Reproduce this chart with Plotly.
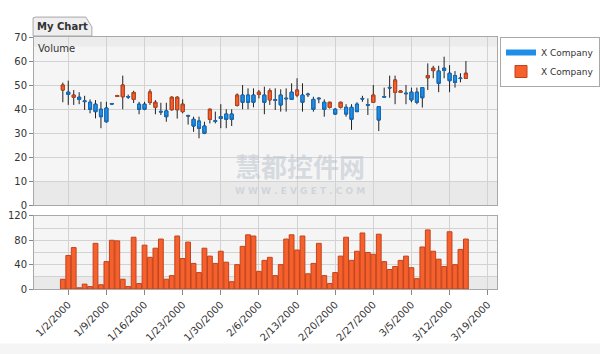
import plotly.graph_objects as go
from plotly.subplots import make_subplots
import pandas as pd

dates = pd.date_range("2000-01-01", periods=75, freq="D")

opens = [47.9, 47.0, 44.9, 44.9, 43.4, 42.8, 42.0, 39.9, 40.4, 42.3,
         45.2, 45.1, 45.2, 44.0, 42.0, 42.0, 42.7, 40.7, 39.0, 39.2,
         39.7, 39.7, 38.9, 37.3, 35.7, 35.0, 32.9, 35.7, 35.1, 36.8,
         37.9, 37.9, 41.5, 45.8, 45.8, 45.8, 46.1, 45.8, 43.8, 43.9,
         45.8, 44.5, 47.0, 45.8, 45.8, 46.2, 44.0, 44.5, 42.8, 40.7,
         39.9, 40.7, 40.7, 40.7, 42.0, 44.4, 41.8, 42.8, 41.0, 45.2,
         49.0, 47.0, 46.9, 46.6, 47.0, 47.0, 48.9, 53.0, 56.0, 55.8,
         57.0, 54.9, 53.9, 52.9, 52.8]
highs = [51.0, 51.8, 47.9, 47.0, 45.5, 44.0, 43.7, 43.0, 43.0, 42.5,
         45.9, 53.9, 46.0, 47.6, 43.0, 43.0, 48.2, 43.7, 42.6, 42.6,
         45.3, 45.3, 44.0, 37.6, 36.8, 36.8, 34.7, 40.2, 38.9, 42.0,
         39.9, 39.9, 46.5, 50.0, 48.6, 48.6, 47.9, 49.3, 48.6, 48.6,
         48.2, 48.6, 50.7, 52.8, 50.7, 46.8, 45.1, 44.9, 44.0, 43.0,
         40.4, 43.0, 42.0, 42.0, 42.8, 45.5, 44.4, 50.0, 41.2, 48.9,
         53.9, 53.9, 47.7, 50.0, 48.9, 48.9, 49.0, 59.0, 58.0, 58.0,
         61.8, 58.3, 55.8, 54.9, 60.0]
lows = [42.8, 41.7, 41.7, 42.0, 39.6, 38.2, 36.1, 32.0, 34.3, 41.9,
        45.0, 39.9, 44.2, 42.5, 37.8, 39.5, 41.7, 37.8, 37.5, 34.7,
        39.3, 36.0, 38.2, 33.5, 30.5, 27.8, 29.5, 34.0, 34.0, 32.0,
        32.0, 32.9, 41.0, 39.9, 39.9, 40.7, 44.4, 37.8, 41.7, 39.6,
        38.9, 38.9, 43.8, 44.9, 38.9, 45.0, 38.9, 42.4, 36.8, 40.2,
        37.6, 40.2, 36.8, 31.3, 38.9, 43.0, 37.5, 42.6, 30.8, 44.7,
        44.7, 42.0, 46.7, 42.0, 42.8, 42.0, 40.6, 47.9, 52.8, 47.0,
        52.8, 47.0, 48.9, 51.1, 52.8]
closes = [50.0, 46.1, 45.8, 44.0, 43.1, 39.9, 38.9, 36.8, 34.7, 42.1,
          45.6, 50.0, 45.0, 46.9, 39.9, 39.9, 47.1, 42.8, 38.8, 36.8,
          44.9, 44.9, 42.0, 37.1, 32.9, 32.0, 29.9, 39.9, 34.9, 36.1,
          35.7, 35.7, 45.8, 42.8, 42.8, 42.8, 47.0, 42.8, 47.6, 43.7,
          41.7, 44.3, 44.0, 47.9, 42.8, 46.0, 39.9, 44.3, 39.9, 42.8,
          37.9, 42.8, 37.9, 35.7, 38.9, 44.2, 41.6, 45.8, 35.4, 45.0,
          48.8, 52.1, 47.5, 46.4, 43.8, 42.8, 44.7, 53.9, 57.0, 50.7,
          56.1, 51.8, 51.1, 52.7, 54.9]
volumes = [16, 55, 68, 2, 8, 4, 75, 7, 45, 80,
           79, 16, 4, 85, 9, 72, 52, 67, 82, 16,
           22, 87, 50, 77, 42, 27, 67, 54, 42, 62,
           44, 12, 40, 70, 89, 87, 29, 47, 52, 22,
           40, 82, 89, 64, 87, 25, 42, 75, 22, 9,
           27, 54, 85, 47, 62, 92, 60, 57, 90, 45,
           32, 37, 47, 54, 35, 17, 69, 97, 62, 49,
           37, 94, 40, 65, 82]

tick_dates = pd.date_range("2000-01-02", "2000-03-19", freq="7D")
tick_labels = [f"{d.month}/{d.day}/{d.year}" for d in tick_dates]

body_hi = [max(o, c) for o, c in zip(opens, closes)]
body_lo = [min(o, c) for o, c in zip(opens, closes)]

BLUE = "#1E8EE8"
BLUE_LINE = "#0F6FC4"
ORANGE = "#F5602C"
ORANGE_LINE = "#C4431A"
FONT = "DejaVu Sans"

fig = make_subplots(rows=2, cols=1, shared_xaxes=True, vertical_spacing=0.04,
                    row_heights=[0.7, 0.3])

# wicks (dark)
fig.add_trace(go.Candlestick(
    x=dates, open=opens, high=highs, low=lows, close=closes,
    increasing=dict(line=dict(color="#222222", width=1), fillcolor="#222222"),
    decreasing=dict(line=dict(color="#222222", width=1), fillcolor="#222222"),
    whiskerwidth=0, showlegend=False, hoverinfo="skip", name="X Company"),
    row=1, col=1)
# coloured bodies
fig.add_trace(go.Candlestick(
    x=dates, open=opens, high=body_hi, low=body_lo, close=closes,
    increasing=dict(line=dict(color=ORANGE_LINE, width=1), fillcolor=ORANGE),
    decreasing=dict(line=dict(color=BLUE_LINE, width=1), fillcolor=BLUE),
    whiskerwidth=0, showlegend=False, name="X Company"),
    row=1, col=1)

# legend entry for the price series (blue candle icon)
fig.add_trace(go.Scatter(x=[dates[0]], y=[None], mode="lines", name="X Company",
                         line=dict(color=BLUE, width=6), showlegend=True,
                         hoverinfo="skip"),
              row=1, col=1)

fig.add_trace(go.Bar(
    x=dates, y=volumes, name="X Company",
    marker=dict(color=ORANGE, line=dict(color=ORANGE_LINE, width=1))),
    row=2, col=1)

xr = ["1999-12-26 17:00", "2000-03-20 17:00"]
axis_common = dict(showline=True, linecolor="#a8a8a8", mirror=True,
                   gridcolor="#d2d2d2", zeroline=False)

fig.update_xaxes(type="date", range=xr, tickvals=tick_dates, ticktext=tick_labels,
                 rangeslider_visible=False, **axis_common)
fig.update_xaxes(showticklabels=False, ticks="", row=1, col=1)
fig.update_xaxes(ticks="outside", ticklen=5, tickcolor="#888", tickangle=-45,
                 tickfont=dict(family=FONT, size=10, color="#333"), row=2, col=1)

fig.update_yaxes(range=[0, 70], dtick=10, ticks="outside", ticklen=4, tickcolor="#888",
                 tickfont=dict(family=FONT, size=10, color="#333"),
                 row=1, col=1, **axis_common)
fig.update_yaxes(range=[0, 120], dtick=40, ticks="outside", ticklen=4, tickcolor="#888",
                 tickfont=dict(family=FONT, size=10, color="#333"),
                 minor=dict(dtick=20, showgrid=True, gridcolor="#d2d2d2"),
                 row=2, col=1, **axis_common)

fig.update_layout(
    width=600, height=354,
    margin=dict(l=34, r=103, t=37, b=65, autoexpand=False),
    paper_bgcolor="white", plot_bgcolor="#f5f5f5",
    boxgap=0.2, bargap=0.12,
    font=dict(family=FONT, size=10, color="#333"),
    legend=dict(x=1.0065, y=1.0, xanchor="left", yanchor="top",
                bgcolor="white", bordercolor="#a8a8a8", borderwidth=1,
                font=dict(family=FONT, size=9, color="#333"),
                itemwidth=30, tracegroupgap=0, traceorder="normal"),
    showlegend=True,
)

fig.update_layout(yaxis=dict(domain=[0.3333, 1.0]), yaxis2=dict(domain=[0.0, 0.29]))

# subtle shaded bands in the plot backgrounds
fig.add_shape(type="rect", xref="x domain", yref="y", x0=0, x1=1, y0=0, y1=10,
              fillcolor="#e9e9e9", line=dict(width=0), layer="below")
fig.add_shape(type="rect", xref="x domain", yref="y", x0=0, x1=1, y0=66, y1=70,
              fillcolor="#ececec", line=dict(width=0), layer="below")
fig.add_shape(type="rect", xref="x2 domain", yref="y2", x0=0, x1=1, y0=0, y1=20,
              fillcolor="#e9e9e9", line=dict(width=0), layer="below")

# bottom light strip of the panel
fig.add_shape(type="rect", xref="paper", yref="paper", x0=-0.08, x1=1.23, y0=-0.262, y1=-0.216,
              fillcolor="#f5f5f5", line=dict(width=0), layer="below")

# tab "My Chart"
fig.add_shape(type="path", xref="paper", yref="paper",
              path="M -0.002 1.004 L -0.002 1.076 L 0.004 1.079 L 0.112 1.079 L 0.125 1.04 L 0.125 1.004 Z",
              fillcolor="#efefef", line=dict(color="#a8a8a8", width=1), layer="below")
fig.add_annotation(xref="paper", yref="paper", x=0.062, y=1.042, xanchor="center", yanchor="middle",
                   text="<b>My Chart</b>",
                   showarrow=False, font=dict(family=FONT, size=10, color="#333"))
fig.add_annotation(xref="paper", yref="paper", x=0.004, y=0.985, xanchor="left", yanchor="top",
                   text="Volume", showarrow=False, font=dict(family=FONT, size=10, color="#333"))

# watermark
fig.add_annotation(xref="paper", yref="paper", x=0.575, y=0.492, xanchor="center", yanchor="middle",
                   text="<b>慧都控件网</b>",
                   showarrow=False, font=dict(family="Noto Sans CJK SC", size=26,
                                              color="rgba(185,195,205,0.55)"))
fig.add_annotation(xref="paper", yref="paper", x=0.575, y=0.39, xanchor="center", yanchor="middle",
                   text="<b>W W W . E V G E T . C O M</b>",
                   showarrow=False, font=dict(family=FONT, size=9,
                                              color="rgba(185,195,205,0.55)"))

fig.write_html("out.html")
